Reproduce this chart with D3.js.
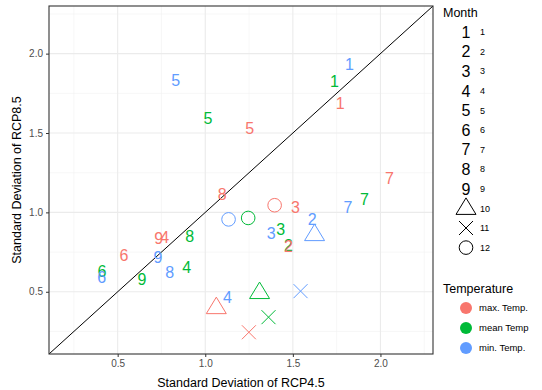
<!DOCTYPE html>
<html>
<head>
<meta charset="utf-8">
<script src="https://cdn.jsdelivr.net/npm/d3@7"></script>
<style>
  body { margin: 0; background: #fff; }
  svg { font-family: "Liberation Sans", Arial, sans-serif; }
</style>
</head>
<body>
<div id="chart"></div>
<script>
// Month labels (shapes): 1..9 as digits, 10 triangle, 11 cross, 12 circle
const months = [1, 2, 3, 4, 5, 6, 7, 8, 9, 10, 11, 12];
const temps = ["max. Temp.", "mean Temp", "min. Temp."];
const tempColors = ["#F8766D", "#00BA38", "#619CFF"];

// Standard deviation of RCP4.5 (x) and RCP8.5 (y) per month
const maxX = [1.77, 1.475, 1.515, 0.768, 1.253, 0.536, 2.051, 1.097, 0.734, 1.063, 1.249, 1.396];
const maxY = [1.69, 0.785, 1.032, 0.842, 1.531, 0.731, 1.213, 1.114, 0.835, 0.40, 0.245, 1.045];
const meanX = [1.738, 1.475, 1.43, 0.894, 1.015, 0.41, 1.909, 0.911, 0.639, 1.31, 1.361, 1.245];
const meanY = [1.826, 0.79, 0.893, 0.655, 1.594, 0.628, 1.083, 0.847, 0.578, 0.495, 0.34, 0.965];
const minX = [1.823, 1.61, 1.377, 1.126, 0.831, 0.409, 1.814, 0.797, 0.73, 1.624, 1.544, 1.133];
const minY = [1.935, 0.956, 0.868, 0.468, 1.83, 0.59, 1.03, 0.626, 0.718, 0.86, 0.504, 0.956];

const xTicks = [0.5, 1.0, 1.5, 2.0];
const yTicks = [0.5, 1.0, 1.5, 2.0];
const minorTicks = [0.25, 0.75, 1.25, 1.75, 2.25];

const width = 542;
const height = 390;
const panel = { left: 49, right: 433, top: 6, bottom: 354 };
const lim = [0.108, 2.30];

const x = d3.scaleLinear().domain(lim).range([panel.left, panel.right]);
const y = d3.scaleLinear().domain(lim).range([panel.bottom, panel.top]);

// points in draw order: mean, max, min
const series = [
  { name: "mean Temp", color: tempColors[1], xs: meanX, ys: meanY },
  { name: "max. Temp.", color: tempColors[0], xs: maxX, ys: maxY },
  { name: "min. Temp.", color: tempColors[2], xs: minX, ys: minY },
];
const points = series.flatMap((s) =>
  months.map((m, i) => ({ month: m, x: s.xs[i], y: s.ys[i], color: s.color }))
);

const svg = d3
  .select("#chart")
  .append("svg")
  .attr("width", width)
  .attr("height", height)
  .attr("viewBox", [0, 0, width, height]);

// clip for panel
svg.append("clipPath").attr("id", "clip")
  .append("rect")
  .attr("x", panel.left).attr("y", panel.top)
  .attr("width", panel.right - panel.left)
  .attr("height", panel.bottom - panel.top);

const grid = svg.append("g");
// minor grid
grid.append("g").selectAll("line").data(minorTicks.filter((d) => d < lim[1])).join("line")
  .attr("x1", (d) => x(d)).attr("x2", (d) => x(d))
  .attr("y1", panel.top).attr("y2", panel.bottom)
  .attr("stroke", "#f2f2f2").attr("stroke-width", 0.6);
grid.append("g").selectAll("line").data(minorTicks.filter((d) => d < lim[1])).join("line")
  .attr("y1", (d) => y(d)).attr("y2", (d) => y(d))
  .attr("x1", panel.left).attr("x2", panel.right)
  .attr("stroke", "#f2f2f2").attr("stroke-width", 0.6);
// major grid
grid.append("g").selectAll("line").data(xTicks).join("line")
  .attr("x1", (d) => x(d)).attr("x2", (d) => x(d))
  .attr("y1", panel.top).attr("y2", panel.bottom)
  .attr("stroke", "#ebebeb").attr("stroke-width", 1.1);
grid.append("g").selectAll("line").data(yTicks).join("line")
  .attr("y1", (d) => y(d)).attr("y2", (d) => y(d))
  .attr("x1", panel.left).attr("x2", panel.right)
  .attr("stroke", "#ebebeb").attr("stroke-width", 1.1);

// diagonal 1:1 line
svg.append("line")
  .attr("clip-path", "url(#clip)")
  .attr("x1", x(lim[0])).attr("y1", y(lim[0]))
  .attr("x2", x(lim[1])).attr("y2", y(lim[1]))
  .attr("stroke", "#000").attr("stroke-width", 1);

// draw a month symbol at (cx, cy)
function drawSymbol(g, month, cx, cy, color) {
  if (month <= 9) {
    g.append("text")
      .attr("x", cx).attr("y", cy)
      .attr("dy", "0.36em")
      .attr("text-anchor", "middle")
      .attr("font-size", "16px")
      .attr("fill", color)
      .text(month);
  } else if (month === 10) {
    const s = 10;
    g.append("path")
      .attr("d", `M${cx - s},${cy + s * 0.6}L${cx + s},${cy + s * 0.6}L${cx},${cy - s * 1.05}Z`)
      .attr("fill", "none").attr("stroke", color).attr("stroke-width", 1);
  } else if (month === 11) {
    const s = 7;
    g.append("path")
      .attr("d", `M${cx - s},${cy - s}L${cx + s},${cy + s}M${cx - s},${cy + s}L${cx + s},${cy - s}`)
      .attr("fill", "none").attr("stroke", color).attr("stroke-width", 1);
  } else {
    g.append("circle")
      .attr("cx", cx).attr("cy", cy).attr("r", 6.8)
      .attr("fill", "none").attr("stroke", color).attr("stroke-width", 1);
  }
}

const pts = svg.append("g").attr("clip-path", "url(#clip)");
points.forEach((p) => drawSymbol(pts, p.month, x(p.x), y(p.y), p.color));

// panel border
svg.append("rect")
  .attr("x", panel.left).attr("y", panel.top)
  .attr("width", panel.right - panel.left)
  .attr("height", panel.bottom - panel.top)
  .attr("fill", "none").attr("stroke", "#333333").attr("stroke-width", 1.1);

// axes
const xAxis = svg.append("g")
  .attr("transform", `translate(0,${panel.bottom})`)
  .call(d3.axisBottom(x).tickValues(xTicks).tickFormat(d3.format(".1f")).tickSize(3).tickPadding(3))
  .call((g) => g.select(".domain").remove());
xAxis.selectAll(".tick line").attr("stroke", "#333333");
xAxis.selectAll(".tick text").attr("fill", "#4d4d4d").attr("font-size", "10px")
  .attr("font-family", "Liberation Sans, Arial, sans-serif");

const yAxis = svg.append("g")
  .attr("transform", `translate(${panel.left},0)`)
  .call(d3.axisLeft(y).tickValues(yTicks).tickFormat(d3.format(".1f")).tickSize(3).tickPadding(3))
  .call((g) => g.select(".domain").remove());
yAxis.selectAll(".tick line").attr("stroke", "#333333");
yAxis.selectAll(".tick text").attr("fill", "#4d4d4d").attr("font-size", "10px")
  .attr("font-family", "Liberation Sans, Arial, sans-serif");

// axis titles
svg.append("text")
  .attr("x", (panel.left + panel.right) / 2).attr("y", 387)
  .attr("text-anchor", "middle").attr("font-size", "12.5px").attr("fill", "#000")
  .text("Standard Deviation of RCP4.5");
svg.append("text")
  .attr("transform", `translate(21,${(panel.top + panel.bottom) / 2}) rotate(-90)`)
  .attr("text-anchor", "middle").attr("font-size", "12.5px").attr("fill", "#000")
  .text("Standard Deviation of RCP8.5");

// legend: Month
const leg = svg.append("g");
leg.append("text").attr("x", 443).attr("y", 17)
  .attr("font-size", "12.5px").attr("fill", "#000").text("Month");
months.forEach((m, i) => {
  const cy = 32 + i * 19.6;
  drawSymbol(leg, m, 466, cy, "#000");
  leg.append("text")
    .attr("x", 480).attr("y", cy).attr("dy", "0.35em")
    .attr("font-size", "9px").attr("fill", "#000").text(m);
});

// legend: Temperature
leg.append("text").attr("x", 443).attr("y", 293)
  .attr("font-size", "12.5px").attr("fill", "#000").text("Temperature");
temps.forEach((t, i) => {
  const cy = 308 + i * 20;
  leg.append("circle").attr("cx", 466).attr("cy", cy).attr("r", 6)
    .attr("fill", tempColors[i]);
  leg.append("text")
    .attr("x", 479).attr("y", cy).attr("dy", "0.35em")
    .attr("font-size", "9.5px").attr("fill", "#000").text(t);
});
</script>
</body>
</html>
